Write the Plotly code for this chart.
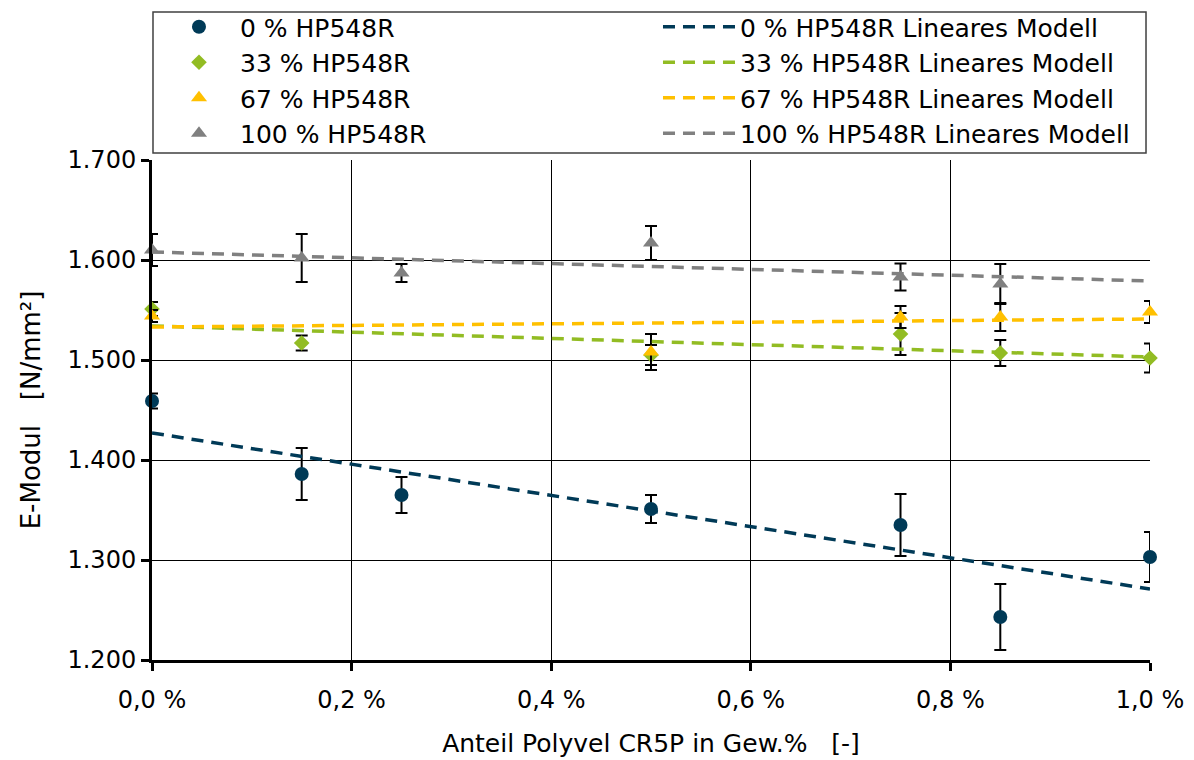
import plotly.graph_objects as go

# ---- data ----
x_0 = [0.0, 0.15, 0.25, 0.5, 0.75, 0.85, 1.0]
y_0 = [1459, 1386, 1365, 1351, 1335, 1243, 1303]
e_0 = [7.5, 26, 18, 14, 31, 33, 25]

x_33 = [0.0, 0.15, 0.5, 0.75, 0.85, 1.0]
y_33 = [1551, 1517, 1505, 1526, 1507, 1502]
e_33 = [7, 7.5, 10, 21, 13, 14.5]

x_67 = [0.0, 0.5, 0.75, 0.85, 1.0]
y_67 = [1544, 1508, 1543, 1543, 1548]
e_67 = [6, 18, 11, 14, 11]

x_100 = [0.0, 0.15, 0.25, 0.5, 0.75, 0.85]
y_100 = [1610, 1602, 1587, 1617, 1583, 1576]
e_100 = [16, 24, 9, 17, 13.5, 20]

# linear model end points (x = 0 and x = 1.0)
model_x = [0.0, 1.0]
model_0 = [1427, 1271]
model_33 = [1534, 1503]
model_67 = [1533, 1541]
model_100 = [1608, 1579]

series_names = ["0 % HP548R", "33 % HP548R", "67 % HP548R", "100 % HP548R"]
x_ticks = [0.0, 0.2, 0.4, 0.6, 0.8, 1.0]
x_tick_labels = ["0,0 %", "0,2 %", "0,4 %", "0,6 %", "0,8 %", "1,0 %"]
y_ticks = [1200, 1300, 1400, 1500, 1600, 1700]
y_tick_labels = ["1.200", "1.300", "1.400", "1.500", "1.600", "1.700"]

colors = ["#003A57", "#92BC23", "#FFC000", "#808080"]
symbols = ["circle", "diamond", "triangle-up", "triangle-up"]
msizes = [14, 12, 14, 14]

FONT = "DejaVu Sans, sans-serif"

fig = go.Figure()

xs = [x_0, x_33, x_67, x_100]
ys = [y_0, y_33, y_67, y_100]
es = [e_0, e_33, e_67, e_100]
models = [model_0, model_33, model_67, model_100]

for i in range(4):
    fig.add_trace(go.Scatter(
        x=xs[i], y=ys[i], mode="markers", name=series_names[i],
        marker=dict(color=colors[i], symbol=symbols[i], size=msizes[i]),
        error_y=dict(type="data", array=es[i], visible=True,
                     color="black", thickness=2, width=6),
        cliponaxis=False, legend="legend",
    ))
for i in range(4):
    fig.add_trace(go.Scatter(
        x=model_x, y=models[i], mode="lines",
        name=series_names[i] + " Lineares Modell",
        line=dict(color=colors[i], width=3.5, dash="12px,8px"),
        cliponaxis=False, legend="legend2",
    ))

# legend frame
fig.add_shape(type="rect", xref="paper", yref="paper",
              x0=0.001, x1=0.996, y0=1.014, y1=1.296,
              line=dict(color="#404040", width=1.5), fillcolor="white", layer="below")

leg_common = dict(orientation="v", yanchor="top", xanchor="left",
                  bgcolor="rgba(0,0,0,0)", borderwidth=0,
                  font=dict(family=FONT, size=25, color="black"),
                  tracegroupgap=0)

fig.update_layout(
    width=1194, height=760,
    margin=dict(l=152, r=44, t=160, b=100, autoexpand=False),
    paper_bgcolor="white", plot_bgcolor="white",
    font=dict(family=FONT, size=24, color="black"),
    showlegend=True,
    legend=dict(x=0.006, y=1.312, itemwidth=72, **leg_common),
    legend2=dict(x=0.507, y=1.312, itemwidth=72, **leg_common),
    xaxis=dict(range=[0, 1], tickvals=x_ticks, ticktext=x_tick_labels,
               showgrid=True, gridcolor="black", gridwidth=1,
               showline=True, linecolor="black", linewidth=3,
               ticks="outside", ticklen=8, tickwidth=3, tickcolor="black",
               ticklabelstandoff=8, automargin=False,
               zeroline=False,
               title=dict(text="Anteil Polyvel CR5P in Gew.%\u00a0\u00a0\u00a0[-]",
                          font=dict(size=25), standoff=22),
               tickfont=dict(size=24)),
    yaxis=dict(range=[1200, 1700], tickvals=y_ticks, ticktext=y_tick_labels,
               showgrid=True, gridcolor="black", gridwidth=1,
               showline=True, linecolor="black", linewidth=3,
               ticks="outside", ticklen=8, tickwidth=3, tickcolor="black",
               automargin=False,
               zeroline=False,
               title=dict(text="E-Modul\u00a0\u00a0\u00a0[N/mm²]", font=dict(size=26), standoff=20),
               tickfont=dict(size=24)),
)

fig.write_html("out.html")
